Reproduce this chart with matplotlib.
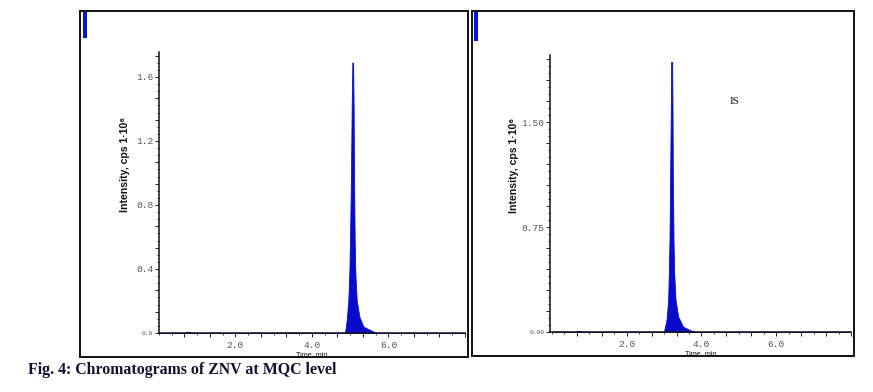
import numpy as np
import matplotlib
matplotlib.use("Agg")
import matplotlib.pyplot as plt
from matplotlib.patches import Rectangle
from matplotlib.ticker import FixedLocator, FixedFormatter, MultipleLocator

# ---------------- data ----------------
# Left chromatogram (analyte ZNV), time in min, intensity in 1e6 cps
znv_time = [0.0, 0.65, 0.72, 0.80, 0.90, 3.10, 3.50, 3.95, 4.80, 4.865, 4.91, 4.952,
            4.978, 4.996, 5.022, 5.04, 5.057, 5.075, 5.09, 5.10, 5.118, 5.135,
            5.17, 5.24, 5.345, 5.52, 5.65, 5.75, 8.0]
znv_int = [0.0, 0.0, 0.008, 0.006, 0.0, 0.0, 0.003, 0.0, 0.0, 0.0, 0.081, 0.206,
           0.373, 0.58, 0.998, 1.414, 1.69, 1.69, 1.414, 0.998, 0.58, 0.373,
           0.206, 0.102, 0.04, 0.019, 0.004, 0.0, 0.0]

# Right chromatogram (internal standard), time in min, intensity in 1e6 cps
is_time = [0.0, 0.60, 0.68, 0.78, 0.88, 2.90, 2.995, 3.066, 3.11, 3.128, 3.146,
           3.164, 3.182, 3.19, 3.217, 3.226, 3.235, 3.253, 3.271, 3.307, 3.378,
           3.51, 3.69, 3.82, 3.90, 7.98]
is_int = [0.0, 0.0, 0.008, 0.006, 0.0, 0.0, 0.0, 0.086, 0.229, 0.419, 0.657,
          1.133, 1.61, 1.93, 1.93, 1.61, 1.133, 0.657, 0.419, 0.229, 0.109,
          0.038, 0.014, 0.003, 0.0, 0.0]

x_label_ticks = [2.0, 4.0, 6.0]
x_label_texts = ["2.0", "4.0", "6.0"]

znv_yticks = [0.0, 0.4, 0.8, 1.2, 1.6]
znv_ylabels = ["0.0", "0.4", "0.8", "1.2", "1.6"]
is_yticks = [0.0, 0.75, 1.50]
is_ylabels = ["0.00", "0.75", "1.50"]

ylabel_text = "Intensity, cps 1·10⁶"
xlabel_text = "Time, min"
is_note = "IS"
caption = "Fig. 4: Chromatograms of ZNV at MQC level"

# ---------------- figure ----------------
W, H = 873, 392
fig = plt.figure(figsize=(W / 100, H / 100), dpi=100)
fig.patch.set_facecolor("white")


def px_rect(x0, y0, x1, y1):
    """pixel box (top-left origin) -> figure fraction [l, b, w, h]"""
    return [x0 / W, 1 - y1 / H, (x1 - x0) / W, (y1 - y0) / H]


def frame(x0, y0, x1, y1):
    l, b, w, h = px_rect(x0, y0, x1, y1)
    fig.patches.append(Rectangle((l, b), w, h, transform=fig.transFigure,
                                 fill=False, edgecolor="#111111", linewidth=1.4))


def marker(x0, y0, x1, y1):
    l, b, w, h = px_rect(x0, y0, x1, y1)
    fig.patches.append(Rectangle((l, b), w, h, transform=fig.transFigure,
                                 facecolor="#0a14dc", edgecolor="none"))


frame(80, 11, 468, 357)
frame(472, 11, 854, 356)
marker(83, 12, 86.5, 37.5)
marker(474.5, 12, 478, 40.5)

peak_color = "#0a0acc"
mono = ["Liberation Mono", "DejaVu Sans Mono"]
sans = ["Liberation Sans", "DejaVu Sans"]


def setup_axes(rect, t, y, xlim, ylim, yticks, ylabels, ymed, ymin, label_x):
    ax = fig.add_axes(px_rect(*rect))
    ax.fill_between(t, y, 0, color=peak_color, linewidth=0.6, edgecolor=peak_color)
    ax.set_xlim(*xlim)
    ax.set_ylim(*ylim)
    for s in ("top", "right"):
        ax.spines[s].set_visible(False)
    for s in ("left", "bottom"):
        ax.spines[s].set_linewidth(1.1)
        ax.spines[s].set_color("#111111")
    # x ticks
    xt = np.arange(2 / 3, xlim[1] + 1e-6, 2 / 3)
    ax.xaxis.set_major_locator(FixedLocator(xt))
    xl = []
    for v in xt:
        lab = ""
        for tv, tl in zip(x_label_ticks, x_label_texts):
            if abs(v - tv) < 1e-3:
                lab = tl
        xl.append(lab)
    ax.xaxis.set_major_formatter(FixedFormatter(xl))
    ax.xaxis.set_minor_locator(MultipleLocator(1 / 3))
    # y ticks
    ytk = np.arange(0, ylim[1] + 1e-6, ymed)
    yl = []
    for v in ytk:
        lab = ""
        for tv, tl in zip(yticks, ylabels):
            if abs(v - tv) < 1e-3:
                lab = tl
        yl.append(lab)
    ax.yaxis.set_major_locator(FixedLocator(ytk))
    ax.yaxis.set_major_formatter(FixedFormatter(yl))
    ax.yaxis.set_minor_locator(MultipleLocator(ymin))
    ax.tick_params(which="major", length=3, width=0.7, color="#222222",
                   labelsize=6.8, labelcolor="#555555", pad=1)
    ax.tick_params(which="minor", length=1.5, width=0.6, color="#222222")
    ax.tick_params(axis="x", which="major", pad=3)
    for lab in ax.get_xticklabels() + ax.get_yticklabels():
        lab.set_family(mono)
    zl = ax.get_yticklabels()[0]
    zl.set_fontsize(4.5)
    ax.set_xlabel(xlabel_text, fontsize=5.2, family=sans, labelpad=0.5, color="#111111")
    ax.text(label_x, 0.6, ylabel_text, transform=ax.transAxes, rotation=90,
            ha="center", va="center", fontsize=7.6, fontweight="bold",
            family=sans, color="#111111")
    return ax


ax1 = setup_axes((158.8, 52, 465, 333), znv_time, znv_int, (0.0, 8.0), (0.0, 1.756),
                 znv_yticks, znv_ylabels, 0.4 / 3, 0.4 / 9, -0.11)
ax2 = setup_axes((550, 55, 851, 332), is_time, is_int, (-0.05, 8.0), (0.0, 1.98),
                 is_yticks, is_ylabels, 0.15, 0.05, -0.118)

ax2.text(735 / W, 1 - 101 / H, is_note, transform=fig.transFigure, ha="center",
         va="center", fontsize=8, family=["Liberation Serif", "DejaVu Serif"],
         color="#111111")

fig.text(28 / W, 1 - 370 / H, caption, ha="left", va="center", fontsize=11.4,
         fontweight="bold", family=["Liberation Serif", "DejaVu Serif"],
         color="#121230")

fig.savefig("out.png", dpi=100)
